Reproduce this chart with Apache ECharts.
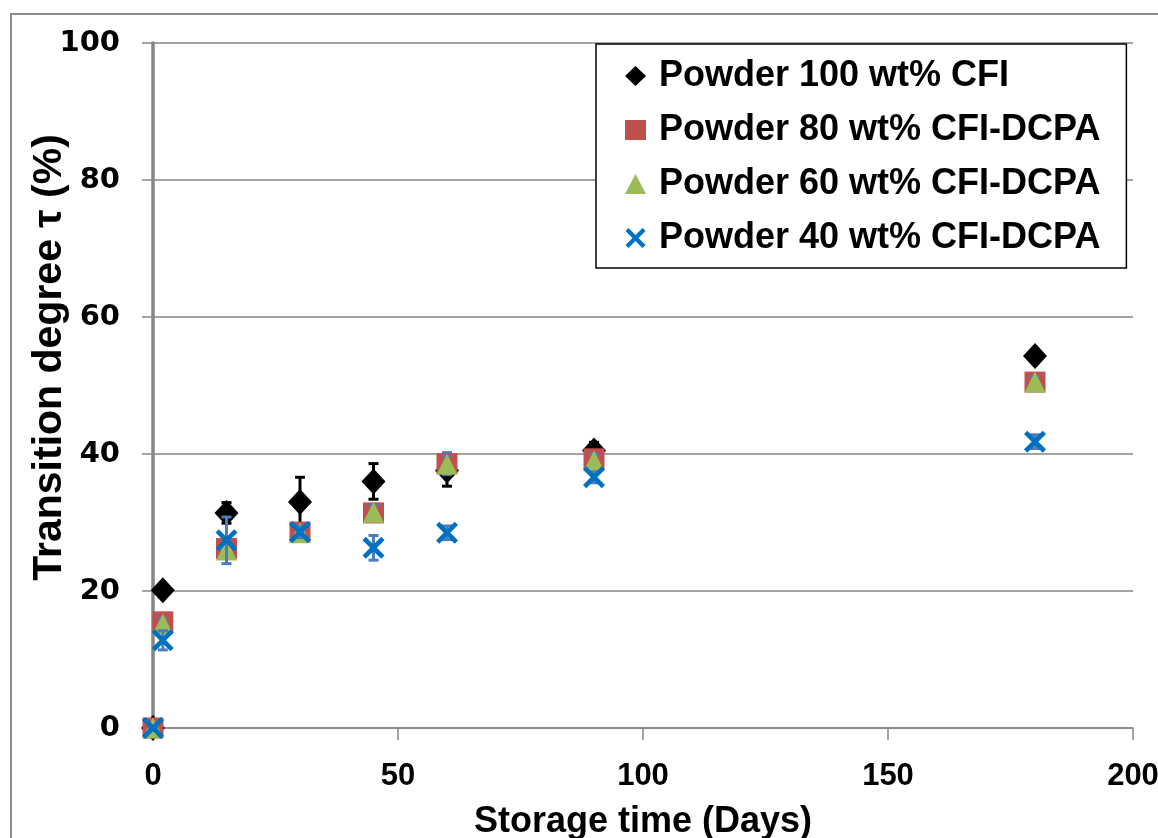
<!DOCTYPE html>
<html>
<head>
<meta charset="utf-8">
<script src="https://cdn.jsdelivr.net/npm/echarts@6/dist/echarts.min.js"></script>
<style>
  html, body { margin: 0; padding: 0; background: #fff; }
  #chart { width: 1158px; height: 838px; }
</style>
</head>
<body>
<div id="chart"></div>
<script>
// storage time (days)
const days = [0, 2, 15, 30, 45, 60, 90, 180];

const cfi100 = [0, 20.1, 31.4, 33.0, 36.0, 37.6, 40.5, 54.3];
const cfi100Err = [0, 0.8, 1.5, 3.6, 2.6, 2.3, 1.2, 0.6];

const cfi80 = [0, 15.5, 26.2, 28.6, 31.4, 38.6, 39.3, 50.5];
const cfi80Err = [0, 0.8, 1.0, 1.0, 1.0, 1.6, 1.0, 0.8];

const cfi60 = [0, 15.2, 26.0, 28.5, 31.5, 38.5, 39.0, 50.5];
const cfi60Err = [0, 0.8, 1.0, 1.0, 1.0, 1.2, 1.0, 0.8];

const cfi40 = [0, 12.8, 27.4, 28.6, 26.3, 28.5, 36.6, 41.8];
const cfi40Err = [0, 1.4, 3.4, 0.8, 1.8, 1.0, 0.8, 1.0];

const names = [
  "Powder 100 wt% CFI",
  "Powder 80 wt% CFI-DCPA",
  "Powder 60 wt% CFI-DCPA",
  "Powder 40 wt% CFI-DCPA"
];

const xIcon = "path://M0,3 L3,0 L10,7 L17,0 L20,3 L13,10 L20,17 L17,20 L10,13 L3,20 L0,17 L7,10 Z";

function pts(vals) {
  return days.map((d, i) => [d, vals[i]]);
}
function errs(vals, e) {
  return days.map((d, i) => [d, vals[i] - e[i], vals[i] + e[i]]);
}

function errorSeries(data, color, z) {
  return {
    type: "custom",
    z: z,
    silent: true,
    data: data,
    renderItem: function (params, api) {
      const lo = api.coord([api.value(0), api.value(1)]);
      const hi = api.coord([api.value(0), api.value(2)]);
      const w = 5;
      const style = { stroke: color, lineWidth: 3 };
      return {
        type: "group",
        children: [
          { type: "line", shape: { x1: lo[0], y1: lo[1], x2: hi[0], y2: hi[1] }, style: style },
          { type: "line", shape: { x1: lo[0] - w, y1: lo[1], x2: lo[0] + w, y2: lo[1] }, style: style },
          { type: "line", shape: { x1: hi[0] - w, y1: hi[1], x2: hi[0] + w, y2: hi[1] }, style: style }
        ]
      };
    }
  };
}

let chart = echarts.init(document.getElementById("chart"));

chart.setOption({
  animation: false,
  backgroundColor: "#fff",
  graphic: [{
    type: "rect",
    shape: { x: 11, y: 14, width: 1170, height: 850 },
    style: { fill: null, stroke: "#8c8c8c", lineWidth: 2 },
    z: -1
  }],
  grid: { left: 153, right: 25, top: 43, bottom: 110, outerBoundsMode: "none" },
  legend: {
    orient: "vertical",
    left: 596,
    top: 44,
    width: 532,
    padding: [14, 26, 12, 29],
    itemGap: 18,
    itemWidth: 21,
    itemHeight: 20,
    backgroundColor: "#fff",
    borderColor: "#000",
    borderWidth: 1.5,
    textStyle: {
      fontFamily: "Liberation Sans",
      fontWeight: "bold",
      fontSize: 36,
      color: "#000",
      padding: [0, 0, 0, 8]
    },
    data: [
      { name: names[0], icon: "diamond", itemStyle: { color: "#000" } },
      { name: names[1], icon: "rect" },
      { name: names[2], icon: "triangle" },
      { name: names[3], icon: xIcon }
    ]
  },
  xAxis: {
    type: "value",
    min: 0,
    max: 200,
    interval: 50,
    name: "Storage time (Days)",
    nameLocation: "middle",
    nameGap: 76,
    nameMoveOverlap: false,
    nameTextStyle: {
      fontFamily: "Liberation Sans",
      fontWeight: "bold",
      fontSize: 36,
      color: "#000"
    },
    axisLine: { lineStyle: { color: "#868686", width: 1.5 } },
    axisTick: { show: true, length: 12, lineStyle: { color: "#868686", width: 1.5 } },
    axisLabel: {
      margin: 33,
      fontFamily: "Liberation Sans",
      fontWeight: "bold",
      fontSize: 31,
      color: "#000"
    },
    splitLine: { show: false }
  },
  yAxis: {
    type: "value",
    min: 0,
    max: 100,
    interval: 20,
    name: "Transition degree \u03c4 (%)",
    nameLocation: "middle",
    nameGap: 83,
    nameMoveOverlap: false,
    nameTextStyle: {
      fontFamily: "Liberation Sans",
      fontWeight: "bold",
      fontSize: 41,
      color: "#000",
      padding: [0, 0, 0, 56]
    },
    axisLine: { show: true, lineStyle: { color: "#868686", width: 3.5 } },
    axisTick: { show: true, length: 11, lineStyle: { color: "#868686", width: 1.5 } },
    axisLabel: {
      margin: 33,
      fontFamily: "DejaVu Sans",
      fontWeight: "bold",
      fontSize: 29,
      color: "#000",
      padding: [4, 0, 0, 0]
    },
    splitLine: { show: true, lineStyle: { color: "#868686", width: 1.5 } }
  },
  series: [
    errorSeries(errs(cfi100, cfi100Err), "#000", 2),
    {
      name: names[0], type: "scatter", z: 3,
      symbol: "diamond", symbolSize: [24, 26],
      itemStyle: { color: "#000", opacity: 1 },
      data: pts(cfi100)
    },
    errorSeries(errs(cfi80, cfi80Err), "#4a7ebb", 4),
    {
      name: names[1], type: "scatter", z: 5,
      symbol: "rect", symbolSize: 21,
      itemStyle: { color: "#c0504d", opacity: 1 },
      data: pts(cfi80)
    },
    errorSeries(errs(cfi60, cfi60Err), "#4a7ebb", 6),
    {
      name: names[2], type: "scatter", z: 7,
      symbol: "triangle", symbolSize: [21, 21],
      itemStyle: { color: "#9bbb59", opacity: 1 },
      data: pts(cfi60)
    },
    errorSeries(errs(cfi40, cfi40Err), "#4a7ebb", 8),
    {
      name: names[3], type: "scatter", z: 9,
      symbol: xIcon, symbolSize: 22,
      itemStyle: { color: "#0070c0", opacity: 1 },
      data: pts(cfi40)
    }
  ]
});
</script>
</body>
</html>
